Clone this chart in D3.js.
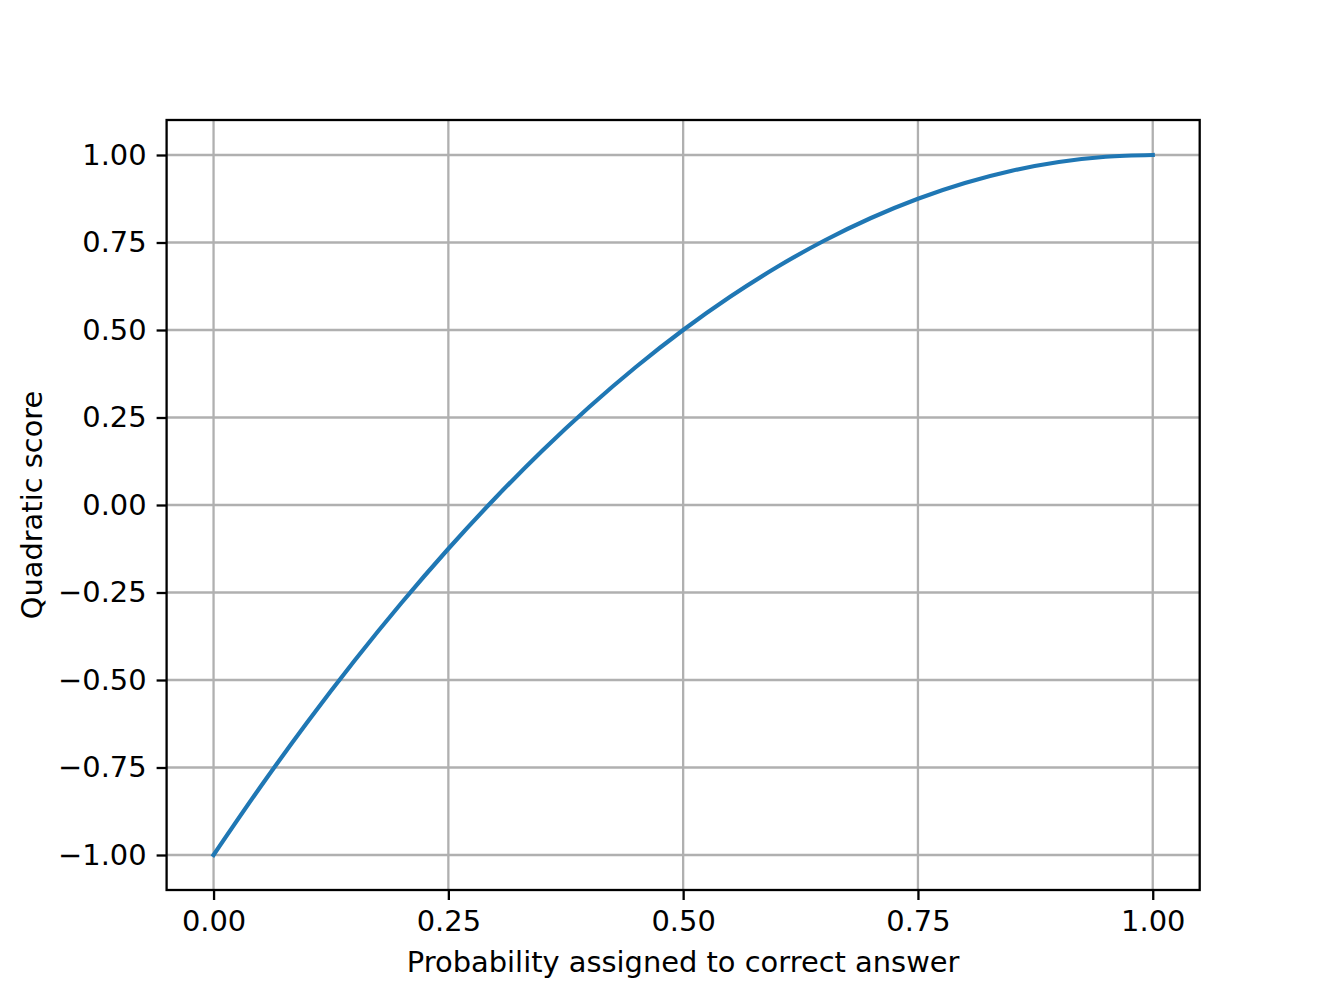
<!DOCTYPE html>
<html><head><meta charset="utf-8">
<script src="https://cdn.jsdelivr.net/npm/d3@7"></script>
<style>body{margin:0;background:#fff}svg{display:block}text{font-family:"DejaVu Sans",sans-serif}</style>
</head><body>
<svg id="c" width="1333" height="1000"></svg>
<script>
const probability = [0,0.05,0.1,0.15,0.2,0.25,0.3,0.35,0.4,0.45,0.5,0.55,0.6,0.65,0.7,0.75,0.8,0.85,0.9,0.95,1];
const score = [-1,-0.805,-0.62,-0.445,-0.28,-0.125,0.02,0.155,0.28,0.395,0.5,0.595,0.68,0.755,0.82,0.875,0.92,0.955,0.98,0.995,1];
const xTicks = [0,0.25,0.5,0.75,1];
const yTicks = [-1,-0.75,-0.5,-0.25,0,0.25,0.5,0.75,1];
const xLabel = "Probability assigned to correct answer";
const yLabel = "Quadratic score";

const L=166.6,R=1199.7,T=120,B=890;
const svg=d3.select("#c");
const x=d3.scaleLinear().domain([-0.05,1.05]).range([L,R]);
const y=d3.scaleLinear().domain([-1.1,1.1]).range([B,T]);
const fmt=v=>d3.format(".2f")(v).replace("-","\u2212");
const fs=28.9;

// grid
svg.append("g").selectAll("line").data(xTicks).join("line")
 .attr("x1",d=>x(d)).attr("x2",d=>x(d)).attr("y1",T).attr("y2",B)
 .attr("stroke","#b0b0b0").attr("stroke-width",2.3);
svg.append("g").selectAll("line").data(yTicks).join("line")
 .attr("y1",d=>y(d)).attr("y2",d=>y(d)).attr("x1",L).attr("x2",R)
 .attr("stroke","#b0b0b0").attr("stroke-width",2.3);

// line
svg.append("path").datum(probability.map((p,i)=>[p,score[i]]))
 .attr("fill","none").attr("stroke","#1f77b4").attr("stroke-width",4.2)
 .attr("stroke-linecap","square")
 .attr("d",d3.line().x(d=>x(d[0])).y(d=>y(d[1])).curve(d3.curveMonotoneX));

// axes
const xa=svg.append("g").attr("transform",`translate(0,${B})`)
 .call(d3.axisBottom(x).tickValues(xTicks).tickFormat(fmt).tickSize(10).tickPadding(10));
const ya=svg.append("g").attr("transform",`translate(${L},0)`)
 .call(d3.axisLeft(y).tickValues(yTicks).tickFormat(fmt).tickSize(10).tickPadding(10));
[xa,ya].forEach(a=>{a.select(".domain").remove();
 a.selectAll(".tick line").attr("stroke","#000").attr("stroke-width",2.3);
 a.selectAll(".tick text").attr("fill","#000").style("font-size",fs+"px").style("font-family","DejaVu Sans");});

svg.append("rect").attr("x",L).attr("y",T).attr("width",R-L).attr("height",B-T)
 .attr("fill","none").attr("stroke","#000").attr("stroke-width",2.3);

svg.append("text").attr("x",(L+R)/2).attr("y",972).attr("text-anchor","middle")
 .style("font-size",fs+"px").text(xLabel);
svg.append("text").attr("transform",`translate(42,${(T+B)/2}) rotate(-90)`).attr("text-anchor","middle")
 .style("font-size",fs+"px").text(yLabel);
</script>
</body></html>
